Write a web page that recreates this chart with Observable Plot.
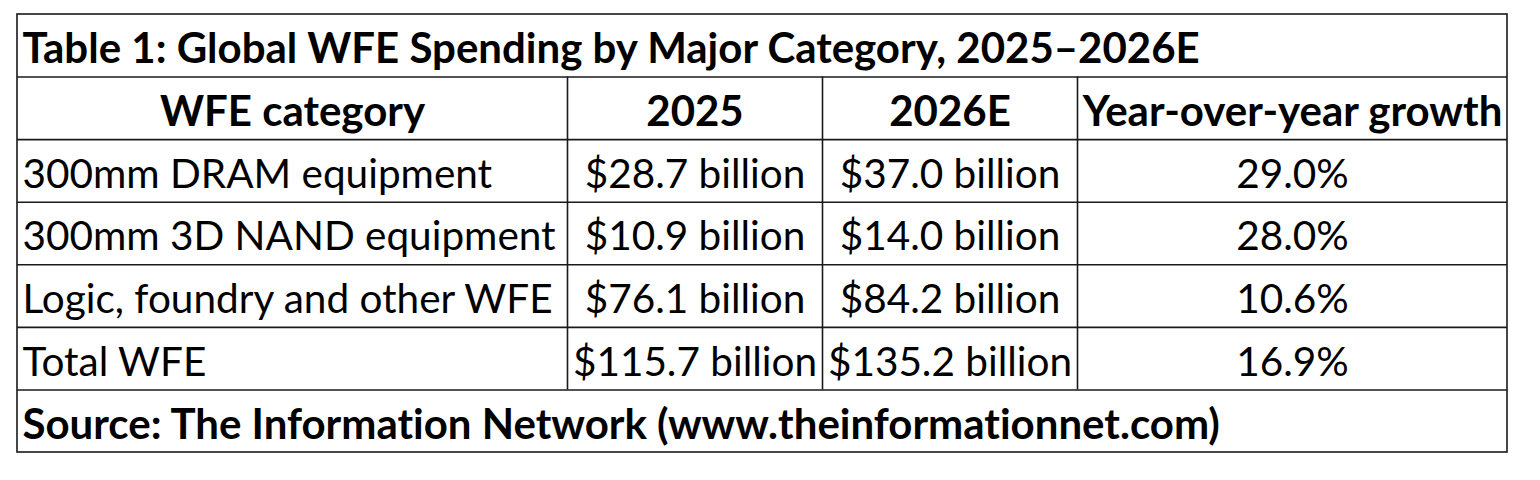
<!DOCTYPE html>
<html><head><meta charset="utf-8">
<script src="https://cdn.jsdelivr.net/npm/d3@7"></script>
<script src="https://cdn.jsdelivr.net/npm/@observablehq/plot@0.6"></script>
<style>html,body{margin:0;padding:0;background:#fff} svg text{font-variant-ligatures:none;font-feature-settings:"liga" 0,"dlig" 0}</style>
</head><body><div id="chart"></div>
<script>
// ---- data ----
const title = "Table 1: Global WFE Spending by Major Category, 2025–2026E";
const headers = ["WFE category", "2025", "2026E", "Year-over-year growth"];
const categories = ["300mm DRAM equipment", "300mm 3D NAND equipment", "Logic, foundry and other WFE", "Total WFE"];
const spend2025 = [28.7, 10.9, 76.1, 115.7];
const spend2026E = [37.0, 14.0, 84.2, 135.2];
const yoyGrowth = [29.0, 28.0, 10.6, 16.9];
const source = "Source: The Information Network (www.theinformationnet.com)";

// ---- layout ----
const colEdges = [0, 550, 805, 1060, 1490];   // column boundaries (x units)
const nRows = 7;                               // title, header, 4 data rows, source
const pad = 5;
const font = "Lato";
const fsRegular = 40.5;
const fsBold = 42;
const lineColor = "#1a1a1a";

const fmtB = v => `$${d3.format(".1f")(v)} billion`;
const fmtP = v => `${d3.format(".1f")(v)}%`;
const mid = c => (colEdges[c] + colEdges[c + 1]) / 2;

const cells = [];
cells.push({x: colEdges[0] + pad, row: 0, text: title, anchor: "start", bold: true});
headers.forEach((h, c) => cells.push({x: mid(c), row: 1, text: h, anchor: "middle", bold: true}));
categories.forEach((cat, i) => {
  cells.push({x: colEdges[0] + pad, row: i + 2, text: cat, anchor: "start", bold: false});
  cells.push({x: mid(1), row: i + 2, text: fmtB(spend2025[i]), anchor: "middle", bold: false});
  cells.push({x: mid(2), row: i + 2, text: fmtB(spend2026E[i]), anchor: "middle", bold: false});
  cells.push({x: mid(3), row: i + 2, text: fmtP(yoyGrowth[i]), anchor: "middle", bold: false});
});
cells.push({x: colEdges[0] + pad, row: 6, text: source, anchor: "start", bold: true});

const textMark = (data, anchor, bold) => Plot.text(data.filter(d => d.anchor === anchor && d.bold === bold), {
  x: "x", y: d => d.row + 0.5, text: "text", textAnchor: anchor,
  fontFamily: font, fontSize: bold ? fsBold : fsRegular, fontWeight: bold ? "bold" : "normal",
  fill: "#000", dy: 4, lineAnchor: "middle"
});

const chart = Plot.plot({
  width: 1540, height: 480,
  marginTop: 0, marginRight: 0, marginBottom: 0, marginLeft: 0,
  x: {type: "linear", domain: [colEdges[0], colEdges[4]], range: [17, 1507], axis: null},
  y: {type: "linear", domain: [0, nRows], range: [14, 452], axis: null},
  style: {background: "#fff"},
  marks: [
    Plot.ruleY(d3.range(1, nRows), {y: d => d, x1: colEdges[0], x2: colEdges[4], stroke: lineColor, strokeWidth: 1.6}),
    Plot.ruleX(colEdges.slice(1, 4), {x: d => d, y1: 1, y2: 6, stroke: lineColor, strokeWidth: 1.6}),
    Plot.rect([0], {x1: colEdges[0], x2: colEdges[4], y1: 0, y2: nRows, fill: "none", stroke: lineColor, strokeWidth: 1.6}),
    textMark(cells, "start", true),
    textMark(cells, "middle", true),
    textMark(cells, "start", false),
    textMark(cells, "middle", false)
  ]
});
document.getElementById("chart").appendChild(chart);
</script>
</body></html>
